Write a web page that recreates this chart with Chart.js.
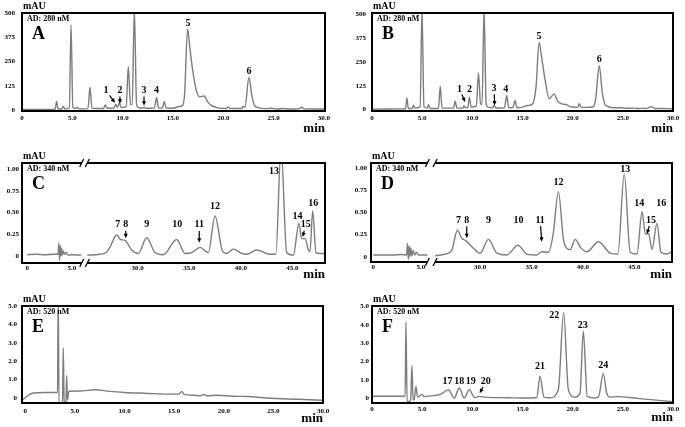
<!DOCTYPE html>
<html>
<head>
<meta charset="utf-8">
<script src="https://cdn.jsdelivr.net/npm/chart.js@4/dist/chart.umd.min.js"></script>
<style>
  html, body { margin: 0; padding: 0; background: #fff; }
  #wrap { position: relative; width: 685px; height: 427px; overflow: hidden; }
  .panel { position: absolute; }
</style>
</head>
<body>
<div id="wrap">
  <div class="panel" style="left:0;top:0;width:340px;height:140px"><canvas id="chartA"></canvas></div>
  <div class="panel" style="left:340px;top:0;width:345px;height:140px"><canvas id="chartB"></canvas></div>
  <div class="panel" style="left:0;top:140px;width:340px;height:145px"><canvas id="chartC"></canvas></div>
  <div class="panel" style="left:340px;top:140px;width:345px;height:145px"><canvas id="chartD"></canvas></div>
  <div class="panel" style="left:0;top:285px;width:340px;height:142px"><canvas id="chartE"></canvas></div>
  <div class="panel" style="left:340px;top:285px;width:345px;height:142px"><canvas id="chartF"></canvas></div>
</div>
<script>
/* ── Data (retention time in min, signal in mAU) ── */
const timeA = [0, 2.9, 3.3, 3.44, 3.58, 3.95, 4.1, 4.25, 4.7, 4.87, 5.05, 5.35, 5.5, 5.65, 6.55, 6.75, 6.95, 8.1, 8.27, 8.45,
  9.15, 9.3, 9.47, 9.67, 9.85, 10.35, 10.56, 10.78, 10.95, 11.16, 11.38, 11.6, 12.0, 12.12, 12.3, 13.15, 13.37, 13.57, 13.95, 14.13,
  14.33, 15.0, 15.5, 15.95, 16.15, 16.45, 16.72, 17.0, 17.35, 17.68, 18.1, 18.45, 18.8, 19.3, 19.66, 20.3, 20.49, 20.7, 21.8, 21.98,
  22.15, 22.54, 22.85, 23.1, 23.47, 24.2, 24.8, 25.3, 25.95, 26.5, 27.5, 27.77, 28.05, 30.1];
const signalA = [3, 3, 5, 46, 5, 5, 20, 6, 12, 440, 14, 8, 14, 6, 7, 117, 9, 8, 26, 9,
  10, 30, 13, 38, 13, 18, 223, 30, 28, 520, 30, 12, 10, 15, 9, 10, 63, 10, 11, 43,
  10, 9, 17, 24, 80, 416, 300, 190, 95, 68, 72, 42, 24, 14, 10, 8, 16, 8, 8, 18,
  14, 168, 70, 24, 12, 7, 9, 5, 8, 5, 6, 14, 6, 5];

const timeB = [0, 3.0, 3.35, 3.48, 3.62, 4.0, 4.14, 4.28, 4.8, 4.98, 5.18, 5.5, 5.63, 5.78, 6.62, 6.8, 6.98, 8.12, 8.29, 8.46,
  9.05, 9.18, 9.35, 9.55, 9.71, 9.88, 10.4, 10.61, 10.82, 10.97, 11.17, 11.38, 11.6, 12.0, 12.17, 12.35, 13.2, 13.43, 13.63, 14.05,
  14.26, 14.46, 15.1, 15.25, 15.6, 16.0, 16.35, 16.65, 16.95, 17.24, 17.67, 18.14, 18.5, 18.9, 19.4, 19.8, 20.06, 20.5, 20.66, 20.85,
  21.39, 21.95, 22.12, 22.3, 22.65, 22.95, 23.2, 23.38, 24.04, 24.88, 25.3, 26.03, 26.5, 26.87, 27.3, 27.86, 28.2, 28.69, 30.0];
const signalB = [3, 4, 6, 61, 6, 6, 23, 8, 16, 530, 16, 8, 26, 6, 6, 123, 8, 8, 45, 8,
  9, 19, 10, 12, 66, 14, 20, 193, 30, 28, 530, 30, 12, 10, 22, 9, 10, 75, 10, 11,
  49, 10, 15, 19, 22, 30, 120, 353, 260, 161, 57, 83, 45, 31, 26, 15, 14, 12, 31, 12,
  12, 14, 20, 60, 231, 90, 30, 20, 10, 10, 7, 8, 6, 8, 6, 16, 6, 6, 5];

// C and D: the x axis is broken between about 6 and 25 min (null = no trace)
const timeC = [0, 1.0, 2.0, 3.0, 3.45, 3.55, 3.62, 3.7, 3.78, 3.86, 3.95, 4.05, 4.2, 4.4, 4.6, 5.0, 6.1, 15,
  25.1, 26.3, 26.93, 27.3, 27.96, 28.35, 28.77, 29.42, 30.06, 30.87, 31.68, 32.48, 33.78, 34.59, 35.24, 36.04, 36.85, 37.5,
  38.24, 38.63, 39.27, 40.08, 40.57, 41.54, 42.83, 43.4, 43.9, 44.45, 45.09, 45.64, 45.9, 46.23, 46.55, 46.71, 46.97, 47.29,
  47.68, 48.2];
const signalC = [0.015, 0.02, 0.015, 0.02, 0.02, 0.15, -0.05, 0.12, 0.0, 0.09, 0.01, 0.06, 0.02, 0.04, 0.01, 0.015, 0.01, null,
  0.01, 0.02, 0.04, 0.1, 0.242, 0.19, 0.18, 0.07, 0.03, 0.21, 0.04, 0.015, 0.19, 0.03, 0.04, 0.10, 0.04, 0.461,
  0.05, 0.03, 0.08, 0.03, 0.02, 0.07, 0.02, 0.02, 1.25, 0.04, 0.01, 0.375, 0.2, 0.2, 0.07, 0.05, 0.52, 0.04,
  0.03, 0.03];

const timeD = [0, 2.0, 3.0, 3.5, 3.6, 3.68, 3.76, 3.85, 3.95, 4.05, 4.2, 4.35, 4.55, 4.75, 5.7, 15,
  25.62, 26.76, 27.24, 27.79, 28.21, 28.64, 29.35, 30.0, 30.81, 31.63, 32.6, 33.67, 34.55, 35.52, 36.0, 36.65, 37.1, 37.62,
  38.1, 38.44, 38.76, 39.25, 39.8, 40.39, 41.52, 42.66, 43.4, 44.02, 44.6, 45.26, 45.75, 46.07, 46.4, 46.72, 47.2, 47.59,
  48.18, 48.67];
const signalD = [0.02, 0.02, 0.025, 0.02, 0.15, -0.03, 0.12, 0.0, 0.1, 0.01, 0.07, 0.02, 0.05, 0.02, 0.02, null,
  0.01, 0.035, 0.07, 0.30, 0.21, 0.18, 0.095, 0.04, 0.197, 0.04, 0.02, 0.13, 0.03, 0.02, 0.057, 0.05, 0.25, 0.735,
  0.2, 0.095, 0.08, 0.197, 0.1, 0.057, 0.17, 0.04, 0.03, 0.94, 0.05, 0.03, 0.51, 0.26, 0.26, 0.08, 0.378, 0.05,
  0.03, 0.06];

const timeE = [-0.33, 0.3, 0.8, 2.0, 3.1, 3.25, 3.32, 3.4, 3.5, 3.75, 3.83, 3.92, 4.1, 4.17, 4.25, 4.4, 5.5, 7.0, 8.5, 10.0,
  12.0, 14.9, 15.5, 15.77, 16.0, 17.0, 17.6, 18.0, 18.3, 19.3, 20.9, 22.5, 24.3, 27.6, 30.0];
const signalE = [-0.14, 0.15, 0.27, 0.3, 0.3, 0.3, 5.6, -0.4, -0.3, -0.2, 2.73, -0.25, -0.2, 1.22, -0.1, 0.37, 0.38, 0.45, 0.36, 0.3,
  0.26, 0.21, 0.22, 0.36, 0.2, 0.15, 0.12, 0.2, 0.12, 0.15, 0.1, 0.08, 0.0, -0.07, -0.12];

const timeF = [0, 3.2, 3.3, 3.38, 3.5, 3.64, 3.85, 3.98, 4.1, 4.2, 4.38, 4.55, 4.97, 5.2, 5.47, 6.8, 7.62, 8.2, 8.69, 9.2,
  9.68, 10.25, 10.61, 11.44, 13.43, 15.42, 16.42, 16.75, 17.14, 17.74, 18.57, 19.1, 19.57, 20.23, 20.73, 21.06, 21.45, 22.22, 22.6, 23.05,
  23.38, 23.7, 24.38, 26.7, 30.0];
const signalF = [0.1, 0.1, 0.1, 4.16, -0.2, -0.2, -0.1, 1.76, -0.1, -0.1, 0.63, 0.05, 0.2, 0.08, 0.1, 0.2, 0.45, 0.0, 0.55, 0.0,
  0.45, 0.02, 0.09, 0.04, 0.02, 0.0, 0.03, 1.2, 0.05, 0.02, 0.45, 4.68, 0.45, 0.05, 0.27, 3.65, 0.1, 0.0, 0.1, 1.35,
  0.3, 0.05, 0.08, -0.03, -0.2];

// peak annotations: [label, time, signal, arrow-tip time, arrow-tip signal]
const peaksA = [['1', 8.34, 100, 9.24, 37], ['2', 9.73, 100, 9.73, 32], ['3', 12.12, 100, 12.12, 22], ['4', 13.37, 100], ['5', 16.48, 448], ['6', 22.54, 201]];
const peaksB = [['1', 8.71, 109, 9.28, 40], ['2', 9.71, 109], ['3', 12.17, 113, 12.22, 22], ['4', 13.33, 109], ['5', 16.65, 387], ['6', 22.65, 266]];
const peaksC = [['7', 28.06, 0.358], ['8', 28.84, 0.358, 28.84, 0.204], ['9', 30.87, 0.358], ['10', 33.84, 0.358], ['11', 35.97, 0.358, 35.97, 0.153],
  ['12', 37.5, 0.569], ['13', 43.22, 0.972], ['14', 45.49, 0.461], ['15', 46.3, 0.358, 46.0, 0.219], ['16', 47.03, 0.608]];
const peaksD = [['7', 27.89, 0.415], ['8', 28.7, 0.415, 28.7, 0.208], ['9', 30.81, 0.415], ['10', 33.73, 0.415], ['11', 35.84, 0.415, 36.0, 0.17],
  ['12', 37.62, 0.848], ['13', 44.12, 0.989], ['14', 45.48, 0.604], ['15', 46.62, 0.415, 46.23, 0.257], ['16', 47.62, 0.604]];
const peaksF = [['17', 7.52, 0.9], ['18', 8.69, 0.9], ['19', 9.85, 0.9], ['20', 11.34, 0.9, 10.73, 0.26],
  ['21', 16.75, 1.71], ['22', 18.17, 4.5], ['23', 21.0, 3.96], ['24', 23.05, 1.8]];

// tick values and labels
const xTicksFull = [0, 5, 10, 15, 20, 25, 30];
const xLabelsFull = ['0', '5.0', '10.0', '15.0', '20.0', '25.0', '30.0'];
const xTicksBroken = [0, 5, 30, 35, 40, 45];
const xLabelsBroken = ['0', '5.0', '30.0', '35.0', '40.0', '45.0'];
const yTicksAB = [0, 125, 250, 375, 500];
const yLabelsAB = ['0', '125', '250', '375', '500'];
const yTicksCD = [0, 0.25, 0.5, 0.75, 1.0];
const yLabelsCD = ['0', '0.25', '0.50', '0.75', '1.00'];
const yTicksEF = [0, 1, 2, 3, 4, 5];
const yLabelsEF = ['0', '1.0', '2.0', '3.0', '4.0', '5.0'];

/* ── Drawing ── */
const SERIF = "'Liberation Serif', 'Times New Roman', serif";
Chart.defaults.font.family = SERIF;
Chart.defaults.font.weight = 'bold';
Chart.defaults.color = '#000';

const plain = t => t;
// broken axis: minutes -> pixel-like units along the frame
const brokenAxis = (z0, sL, z30, sR) => t => (t < 15 ? z0 + sL * t : z30 + sR * (t - 30));

function arrow(ctx, x0, y0, x1, y1) {
    const dx = x1 - x0, dy = y1 - y0, len = Math.hypot(dx, dy);
    const ux = dx / len, uy = dy / len;
    ctx.lineWidth = 1.2;
    ctx.beginPath();
    ctx.moveTo(x0 + ux * 6, y0 + uy * 6);
    ctx.lineTo(x1 - ux * 3, y1 - uy * 3);
    ctx.stroke();
    ctx.beginPath();
    ctx.moveTo(x1, y1);
    ctx.lineTo(x1 - ux * 4.5 - uy * 2, y1 - uy * 4.5 + ux * 2);
    ctx.lineTo(x1 - ux * 4.5 + uy * 2, y1 - uy * 4.5 - ux * 2);
    ctx.closePath();
    ctx.fill();
}

function decor(p) {
    return {
        id: 'decor',
        afterDraw(chart) {
            const { ctx, chartArea: a, scales } = chart;
            const px = t => scales.x.getPixelForValue(p.mapX(t));
            const py = v => scales.y.getPixelForValue(v);
            ctx.save();
            ctx.strokeStyle = '#000';
            ctx.fillStyle = '#000';
            ctx.lineWidth = 2;
            ctx.beginPath();
            if (p.gap) {
                const g1 = scales.x.getPixelForValue(p.gap[0]);
                const g2 = scales.x.getPixelForValue(p.gap[1]);
                ctx.moveTo(g1, a.top); ctx.lineTo(a.left, a.top); ctx.lineTo(a.left, a.bottom); ctx.lineTo(g1, a.bottom);
                ctx.moveTo(g2, a.top); ctx.lineTo(a.right, a.top); ctx.lineTo(a.right, a.bottom); ctx.lineTo(g2, a.bottom);
                ctx.stroke();
                ctx.lineWidth = 1.3;
                ctx.beginPath();
                [g1, g2].forEach(g => [a.top, a.bottom].forEach(y => {
                    ctx.moveTo(g - 2, y + 4);
                    ctx.lineTo(g + 2, y - 4);
                }));
                ctx.stroke();
            } else {
                ctx.rect(a.left, a.top, a.width, a.height);
                ctx.stroke();
            }

            ctx.textAlign = 'left';
            ctx.textBaseline = 'alphabetic';
            ctx.font = `bold 10px ${SERIF}`;
            ctx.fillText('mAU', a.left + 1, a.top - 4.5);
            ctx.font = `bold 8px ${SERIF}`;
            ctx.fillText(p.ad, a.left + 5, a.top + 8);
            ctx.font = `bold 18px ${SERIF}`;
            ctx.fillText(p.letter, a.left + 10, a.top + 26);
            ctx.font = `bold 13px ${SERIF}`;
            ctx.textAlign = 'right';
            ctx.fillText('min', a.right, p.minY);

            ctx.font = `bold 10px ${SERIF}`;
            ctx.textAlign = 'center';
            ctx.textBaseline = 'middle';
            p.peaks.forEach(([txt, t, v, tt, tv]) => {
                const x = px(t), y = py(v);
                ctx.fillText(txt, x, y);
                if (tt !== undefined) arrow(ctx, x, y, px(tt), py(tv));
            });
            ctx.restore();
        }
    };
}

function makePanel(id, p) {
    const mapX = p.mapX;
    const pts = p.time.map((t, i) => ({ x: mapX(t), y: p.signal[i] }));
    const tickFont = { size: 7, weight: 'bold', family: SERIF };
    return new Chart(document.getElementById(id), {
        type: 'line',
        data: {
            datasets: [{
                data: pts,
                borderColor: '#7d7d7d',
                borderWidth: 1.4,
                pointRadius: 0,
                cubicInterpolationMode: 'monotone',
                spanGaps: false,
                fill: false
            }]
        },
        options: {
            responsive: true,
            maintainAspectRatio: false,
            animation: false,
            events: [],
            layout: { padding: { top: p.box.top, right: p.box.right, left: 0, bottom: 0 } },
            plugins: { legend: { display: false }, tooltip: { enabled: false } },
            scales: {
                x: {
                    type: 'linear',
                    min: p.xMin,
                    max: p.xMax,
                    grid: { display: false, drawTicks: false },
                    border: { display: false },
                    afterBuildTicks: s => { s.ticks = p.xTicks.map(v => ({ value: mapX(v) })); },
                    ticks: { autoSkip: false, maxRotation: 0, padding: p.xPad, font: tickFont, color: '#000',
                        callback: (v, i) => p.xLabels[i] },
                    afterFit: s => { s.height = p.box.bottom; }
                },
                y: {
                    min: p.yMin,
                    max: p.yMax,
                    grid: { display: false, drawTicks: false },
                    border: { display: false },
                    afterBuildTicks: s => { s.ticks = p.yTicks.map(v => ({ value: v })); },
                    ticks: { autoSkip: false, padding: p.yPad, font: tickFont, color: '#000',
                        callback: (v, i) => p.yLabels[i] },
                    afterFit: s => { s.width = p.box.left; }
                }
            }
        },
        plugins: [decor(p)]
    });
}

const mapC = brokenAxis(5.3, 8.9, 115.7, 10.31);
const mapD = brokenAxis(2.3, 9.5, 109, 10.27);

makePanel('chartA', { time: timeA, signal: signalA, peaks: peaksA, mapX: plain, xMin: 0, xMax: 30.1, yMin: -5, yMax: 500,
    xTicks: xTicksFull, xLabels: xLabelsFull, yTicks: yTicksAB, yLabels: yLabelsAB, xPad: 3, yPad: 7,
    box: { left: 22, top: 13, right: 15, bottom: 29 }, ad: 'AD: 280 nM', letter: 'A', minY: 132 });
makePanel('chartB', { time: timeB, signal: signalB, peaks: peaksB, mapX: plain, xMin: 0, xMax: 30, yMin: -7, yMax: 508,
    xTicks: xTicksFull, xLabels: xLabelsFull, yTicks: yTicksAB, yLabels: yLabelsAB, xPad: 3, yPad: 6,
    box: { left: 32, top: 13, right: 12, bottom: 29 }, ad: 'AD: 280 nM', letter: 'B', minY: 132 });
makePanel('chartC', { time: timeC, signal: signalC, peaks: peaksC, mapX: mapC, xMin: 0, xMax: 303, yMin: -0.08, yMax: 1.07,
    xTicks: xTicksBroken, xLabels: xLabelsBroken, yTicks: yTicksCD, yLabels: yLabelsCD, xPad: 1, yPad: 3, gap: [59.7, 65.3],
    box: { left: 22, top: 23, right: 15, bottom: 22 }, ad: 'AD: 340 nM', letter: 'C', minY: 138 });
makePanel('chartD', { time: timeD, signal: signalD, peaks: peaksD, mapX: mapD, xMin: 0, xMax: 300.7, yMin: -0.06, yMax: 1.063,
    xTicks: xTicksBroken, xLabels: xLabelsBroken, yTicks: yTicksCD, yLabels: yLabelsCD, xPad: 1, yPad: 4, gap: [56.3, 64],
    box: { left: 31, top: 23, right: 13, bottom: 23 }, ad: 'AD: 340 nM', letter: 'D', minY: 138 });
makePanel('chartE', { time: timeE, signal: signalE, peaks: [], mapX: plain, xMin: -0.33, xMax: 30, yMin: -0.27, yMax: 5.0,
    xTicks: xTicksFull, xLabels: xLabelsFull, yTicks: yTicksEF, yLabels: yLabelsEF, xPad: 4, yPad: 5,
    box: { left: 22, top: 21, right: 17, bottom: 24 }, ad: 'AD: 520 nM', letter: 'E', minY: 137 });
makePanel('chartF', { time: timeF, signal: signalF, peaks: peaksF, mapX: plain, xMin: 0, xMax: 30, yMin: -0.27, yMax: 5.03,
    xTicks: xTicksFull, xLabels: xLabelsFull, yTicks: yTicksEF, yLabels: yLabelsEF, xPad: 2, yPad: 3,
    box: { left: 32, top: 21, right: 12, bottom: 24 }, ad: 'AD: 520 nM', letter: 'F', minY: 136 });
</script>
</body>
</html>
